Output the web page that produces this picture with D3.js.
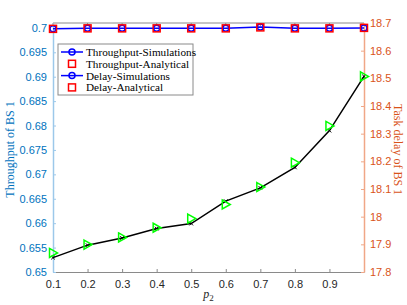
<!DOCTYPE html>
<html>
<head>
<meta charset="utf-8">
<script src="https://cdn.jsdelivr.net/npm/d3@7"></script>
<style>
  body { margin: 0; background: #fff; }
  svg { display: block; }
  .tick text { font-family: "Liberation Sans", Arial, sans-serif; font-size: 11px; }
</style>
</head>
<body>
<svg id="chart"></svg>
<script>
const p2 = [0.1, 0.2, 0.3, 0.4, 0.5, 0.6, 0.7, 0.8, 0.9, 1.0]
const xTicks = [0.1, 0.2, 0.3, 0.4, 0.5, 0.6, 0.7, 0.8, 0.9]
const leftTicks = [0.65, 0.655, 0.66, 0.665, 0.67, 0.675, 0.68, 0.685, 0.69, 0.695, 0.7]
const rightTicks = [17.8, 17.9, 18, 18.1, 18.2, 18.3, 18.4, 18.5, 18.6, 18.7]

const throughputSim = [0.6998, 0.6999, 0.6999, 0.6999, 0.6999, 0.6999, 0.7002, 0.6999, 0.6999, 0.7000]
const throughputAna = [0.6998, 0.6999, 0.6999, 0.6999, 0.6999, 0.6999, 0.7001, 0.6999, 0.6999, 0.7000]
const delaySim = [17.852, 17.897, 17.923, 17.957, 17.975, 18.056, 18.104, 18.178, 18.311, 18.507]
const delayAna = [17.869, 17.899, 17.925, 17.960, 17.993, 18.044, 18.107, 18.195, 18.328, 18.507]

const legendLabels = ['Throughput-Simulations', 'Throughput-Analytical', 'Delay-Simulations', 'Delay-Analytical']

const width = 407
const height = 305
const margin = { top: 23, right: 43, bottom: 33, left: 53 }
const w = width - margin.left - margin.right
const h = height - margin.top - margin.bottom

const blueAxis = '#0072bd'
const orangeAxis = '#d95319'

const svg = d3.select('#chart')
  .attr('width', width)
  .attr('height', height)

const g = svg.append('g')
  .attr('transform', `translate(${margin.left}, ${margin.top})`)

const xScale = d3.scaleLinear().domain([0.1, 1.0]).range([0, w])
const yLeft = d3.scaleLinear().domain([0.65, 0.701]).range([h, 0])
const yRight = d3.scaleLinear().domain([17.8, 18.7]).range([h, 0])

// top box line with ticks
g.append('line')
  .attr('x1', 0).attr('x2', w).attr('y1', 0).attr('y2', 0)
  .attr('stroke', '#8a8a8a').attr('stroke-width', 1)
g.append('g')
  .selectAll('line')
  .data(xTicks)
  .join('line')
  .attr('x1', d => xScale(d)).attr('x2', d => xScale(d))
  .attr('y1', 0).attr('y2', 3)
  .attr('stroke', '#8a8a8a')

// bottom axis
const xAxis = g.append('g')
  .attr('transform', `translate(0, ${h})`)
  .call(d3.axisBottom(xScale).tickValues(xTicks).tickSizeInner(-3).tickSizeOuter(0).tickPadding(8).tickFormat(d3.format('.1f')))
xAxis.select('.domain').attr('stroke', '#8a8a8a')
xAxis.selectAll('.tick line').attr('stroke', '#8a8a8a')
xAxis.selectAll('.tick text').attr('fill', '#262626')

// left axis
const leftAxis = g.append('g')
  .call(d3.axisLeft(yLeft).tickValues(leftTicks).tickSizeInner(-3).tickSizeOuter(0).tickPadding(6)
    .tickFormat(d => d3.format('')(+d.toFixed(3))))
leftAxis.select('.domain').attr('stroke', '#9cc8ea').attr('stroke-width', 1.5)
leftAxis.selectAll('.tick line').attr('stroke', '#9cc8ea')
leftAxis.selectAll('.tick text').attr('fill', blueAxis)

// right axis
const rightAxis = g.append('g')
  .attr('transform', `translate(${w}, 0)`)
  .call(d3.axisRight(yRight).tickValues(rightTicks).tickSizeInner(-3).tickSizeOuter(0).tickPadding(6)
    .tickFormat(d => d3.format('')(+d.toFixed(1))))
rightAxis.select('.domain').attr('stroke', '#f0a787').attr('stroke-width', 1.5)
rightAxis.selectAll('.tick line').attr('stroke', '#f0a787')
rightAxis.selectAll('.tick text').attr('fill', orangeAxis)

// axis labels
svg.append('text')
  .attr('transform', `translate(14, ${margin.top + h / 2 + 2}) rotate(-90)`)
  .attr('text-anchor', 'middle')
  .attr('font-family', '"Liberation Serif", "Times New Roman", serif')
  .attr('font-size', 12)
  .attr('fill', blueAxis)
  .text('Throughput of BS 1')

svg.append('text')
  .attr('transform', `translate(394, ${margin.top + h / 2 + 2}) rotate(90)`)
  .attr('text-anchor', 'middle')
  .attr('font-family', '"Liberation Serif", "Times New Roman", serif')
  .attr('font-size', 12)
  .attr('fill', orangeAxis)
  .text('Task delay of BS 1')

const xLabel = svg.append('text')
  .attr('x', margin.left + xScale(0.55))
  .attr('y', 298)
  .attr('text-anchor', 'middle')
  .attr('font-family', '"Liberation Serif", "Times New Roman", serif')
  .attr('font-size', 12)
  .attr('font-style', 'italic')
  .attr('fill', '#262626')
xLabel.append('tspan').text('p')
xLabel.append('tspan').attr('font-size', 9).attr('dy', 3).attr('font-style', 'normal').text('2')

// delay series (right axis)
const delayLine = d3.line()
  .x((d, i) => xScale(p2[i]))
  .y(d => yRight(d))

g.append('path')
  .datum(delaySim)
  .attr('d', delayLine)
  .attr('fill', 'none')
  .attr('stroke', '#000')
  .attr('stroke-width', 1.5)

g.append('g')
  .selectAll('path')
  .data(delaySim)
  .join('path')
  .attr('transform', (d, i) => `translate(${xScale(p2[i])}, ${yRight(d)})`)
  .attr('d', 'M-1.8,-1.8L1.8,1.8M-1.8,1.8L1.8,-1.8')
  .attr('stroke', '#000')
  .attr('stroke-width', 1)

g.append('g')
  .selectAll('path')
  .data(delayAna)
  .join('path')
  .attr('transform', (d, i) => `translate(${xScale(p2[i])}, ${yRight(d)})`)
  .attr('d', 'M-3.5,-4.5L4.5,0L-3.5,4.5Z')
  .attr('fill', 'none')
  .attr('stroke', '#00ff00')
  .attr('stroke-width', 1.5)

// throughput series (left axis)
const tpLine = d3.line()
  .x((d, i) => xScale(p2[i]))
  .y(d => yLeft(d))

g.append('path')
  .datum(throughputSim)
  .attr('d', tpLine)
  .attr('fill', 'none')
  .attr('stroke', '#0000ff')
  .attr('stroke-width', 1.5)

g.append('g')
  .selectAll('circle')
  .data(throughputSim)
  .join('circle')
  .attr('cx', (d, i) => xScale(p2[i]))
  .attr('cy', d => yLeft(d))
  .attr('r', 3)
  .attr('fill', 'none')
  .attr('stroke', '#0000ff')
  .attr('stroke-width', 1.5)

g.append('g')
  .selectAll('rect')
  .data(throughputAna)
  .join('rect')
  .attr('x', (d, i) => xScale(p2[i]) - 3.5)
  .attr('y', d => yLeft(d) - 3.5)
  .attr('width', 7)
  .attr('height', 7)
  .attr('fill', 'none')
  .attr('stroke', '#ff0000')
  .attr('stroke-width', 1.5)

// legend
const legend = svg.append('g').attr('transform', 'translate(58, 44)')
legend.append('rect')
  .attr('width', 135)
  .attr('height', 51)
  .attr('fill', '#fff')
  .attr('stroke', '#8a8a8a')
  .attr('stroke-width', 1)

const items = legend.selectAll('g.item')
  .data(legendLabels)
  .join('g')
  .attr('class', 'item')
  .attr('transform', (d, i) => `translate(0, ${8 + i * 11.8})`)

items.filter((d, i) => i % 2 === 0)
  .append('line')
  .attr('x1', 3).attr('x2', 25).attr('y1', 0).attr('y2', 0)
  .attr('stroke', '#0000ff').attr('stroke-width', 1.5)
items.filter((d, i) => i % 2 === 0)
  .append('circle')
  .attr('cx', 14).attr('cy', 0).attr('r', 3)
  .attr('fill', 'none').attr('stroke', '#0000ff').attr('stroke-width', 1.5)
items.filter((d, i) => i % 2 === 1)
  .append('rect')
  .attr('x', 10.5).attr('y', -3.5).attr('width', 7).attr('height', 7)
  .attr('fill', 'none').attr('stroke', '#ff0000').attr('stroke-width', 1.5)

items.append('text')
  .attr('x', 28)
  .attr('y', 0)
  .attr('dy', '0.35em')
  .attr('font-family', '"Liberation Serif", "Times New Roman", serif')
  .attr('font-size', 11.2)
  .attr('fill', '#000')
  .text(d => d)
</script>
</body>
</html>
